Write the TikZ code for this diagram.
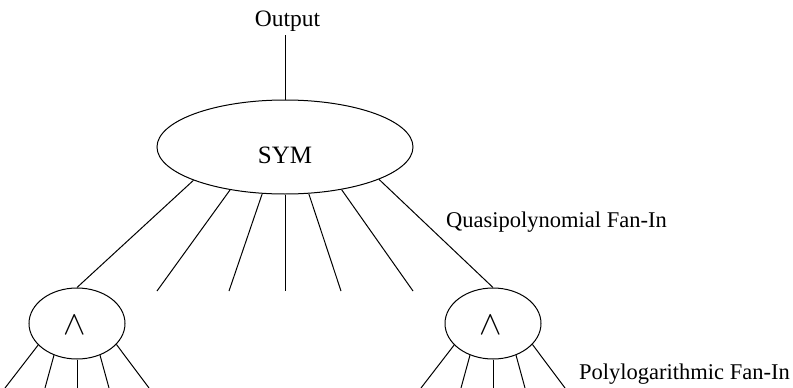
\documentclass[tikz,border=0pt]{standalone}
\usepackage{fontspec}
\setmainfont{Liberation Serif}
\usepackage{graphicx}
\usetikzlibrary{shapes.geometric}
\begin{document}
\begin{tikzpicture}[x=1pt,y=-1pt,
  every node/.style={font=\fontsize{22.5}{24}\selectfont},
  gate/.style={draw, ellipse, inner sep=0pt, line width=1pt},
  wire/.style={line width=1pt},
  lbl/.style={inner sep=0pt}]
\useasboundingbox (0,0) rectangle (793,388);
% nodes
\node[lbl, anchor=base, font=\fontsize{23.5}{25}\selectfont] (out) at (287.5,27) {Output};
\coordinate (outend) at (285,35);
\node[gate, minimum width=256pt, minimum height=94pt] (sym) at (285,147) {};
\node[lbl, anchor=base, font=\fontsize{25}{26}\selectfont] (symtxt) at (285,163) {SYM};
\node[gate, minimum width=96pt, minimum height=71pt] (andL) at (77,323.5) {};
\node[gate, minimum width=96pt, minimum height=71pt] (andR) at (493,323.5) {};
\node[lbl] (wL) at (74.5,325.5) {\fontsize{25}{25}\selectfont\scalebox{1.35}{$\wedge$}};
\node[lbl] (wR) at (490.5,325.5) {\fontsize{25}{25}\selectfont\scalebox{1.35}{$\wedge$}};
\node[lbl, anchor=base west] (quasi) at (446,227) {Quasipolynomial Fan-In};
\node[lbl, anchor=base west] (poly) at (579,379) {Polylogarithmic Fan-In};
% stub ends
\coordinate (s2) at (157,291);
\coordinate (s3) at (229,291);
\coordinate (s4) at (285,291);
\coordinate (s5) at (341,291);
\coordinate (s6) at (413,291);
% output line
\draw[wire] (sym.north) -- (outend);
% fan-in from SYM
\draw[wire] (sym.-160.5) -- (andL.north);
\draw[wire] (sym.-142.6) -- (s2);
\draw[wire] (sym.-116.2) -- (s3);
\draw[wire] (sym.-90) -- (s4);
\draw[wire] (sym.-63.8) -- (s5);
\draw[wire] (sym.-37.4) -- (s6);
\draw[wire] (sym.-19.5) -- (andR.north);
% fan-in of AND gates
\foreach \g/\cx in {andL/77, andR/493}{
  \coordinate (\g e1) at (\cx-72,388);
  \coordinate (\g e2) at (\cx-32,388);
  \coordinate (\g e3) at (\cx,388);
  \coordinate (\g e4) at (\cx+32,388);
  \coordinate (\g e5) at (\cx+72,388);
  \draw[wire] (\g.-151.2) -- (\g e1);
  \draw[wire] (\g.-126) -- (\g e2);
  \draw[wire] (\g.-90) -- (\g e3);
  \draw[wire] (\g.-54) -- (\g e4);
  \draw[wire] (\g.-28.8) -- (\g e5);
}
\end{tikzpicture}
\end{document}
